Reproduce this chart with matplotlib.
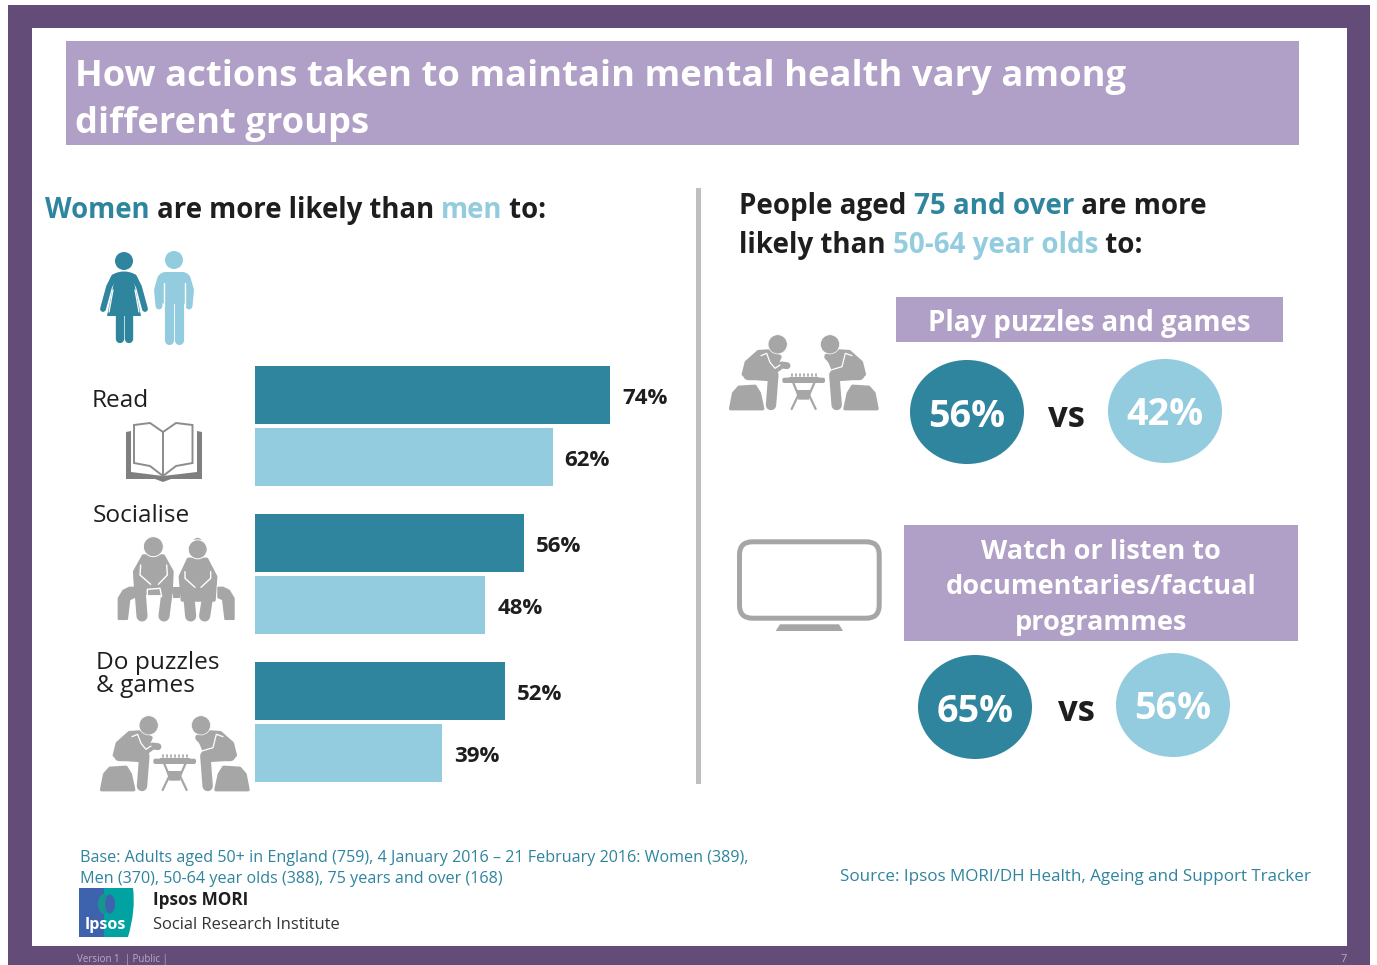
import matplotlib
matplotlib.use("Agg")
import matplotlib.pyplot as plt
from matplotlib.patches import Rectangle, Ellipse, Circle, Polygon, FancyBboxPatch, PathPatch
from matplotlib.path import Path

plt.rcParams['font.family'] = ['Open Sans', 'Noto Sans', 'DejaVu Sans']

# survey results
categories = ["Read", "Socialise", "Do puzzles\n& games"]
women = [74, 56, 52]
men = [62, 48, 39]
puzzles_old, puzzles_young = 56, 42
factual_old, factual_young = 65, 56

PURPLE = "#634C78"
LILAC = "#B09FC6"
DARK = "#2F849E"
LIGHT = "#93CCDE"
GREY = "#A6A6A6"
INK = "#1E1E1E"

fig = plt.figure(figsize=(13.77, 9.65), dpi=100)
ax = fig.add_axes([0, 0, 1, 1])
ax.set_xlim(0, 1377)
ax.set_ylim(965, 0)
ax.axis("off")
renderer = fig.canvas.get_renderer()


def rect(x0, y0, x1, y1, color, z=1):
    ax.add_patch(Rectangle((x0, y0), x1 - x0, y1 - y0, fc=color, ec="none", zorder=z))


def width_of(txt, **kw):
    # the dot keeps trailing spaces in the measurement
    a = ax.text(0, 0, txt + ".", **kw)
    b = ax.text(0, 0, ".", **kw)
    w = a.get_window_extent(renderer).width - b.get_window_extent(renderer).width
    a.remove()
    b.remove()
    return w


def runs(x, y, parts, size, weight="bold"):
    for txt, color in parts:
        ax.text(x, y, txt, color=color, fontsize=size, fontweight=weight, va="baseline", ha="left", zorder=5)
        x += width_of(txt, fontsize=size, fontweight=weight)


def thick(points, lw, color=GREY, z=3, cap="round"):
    xs, ys = zip(*points)
    ax.plot(xs, ys, color=color, lw=lw, solid_capstyle=cap, solid_joinstyle="round", zorder=z)


def blob(points, color=GREY, z=3, soft=2.5):
    # polygon with rounded corners from a thick round-joined edge
    ax.add_patch(Polygon(points, fc=color, ec=color, lw=soft, joinstyle="round", zorder=z))


def woman_icon(cx):
    ax.add_patch(Circle((cx, 261), 9, fc=DARK, ec="none", zorder=3))
    ax.add_patch(Polygon([(cx - 17, 316), (cx - 10, 282), (cx - 8, 273), (cx + 8, 273), (cx + 10, 282), (cx + 17, 316)],
                         fc=DARK, ec="none", zorder=3))
    ax.add_patch(Ellipse((cx, 279), 27, 15, fc=DARK, ec="none", zorder=3))
    thick([(cx - 10, 277), (cx - 15, 287), (cx - 21, 309)], 4.2, DARK)
    thick([(cx + 10, 277), (cx + 15, 287), (cx + 21, 309)], 4.2, DARK)
    thick([(cx - 11, 290), (cx - 15, 312)], 0.9, "white", z=4)
    thick([(cx + 11, 290), (cx + 15, 312)], 0.9, "white", z=4)
    thick([(cx - 4.5, 314), (cx - 4.5, 339)], 6.0, DARK)
    thick([(cx + 4.5, 314), (cx + 4.5, 339)], 6.0, DARK)


def man_icon(cx):
    ax.add_patch(Circle((cx, 260), 9, fc=LIGHT, ec="none", zorder=3))
    ax.add_patch(FancyBboxPatch((cx - 16, 272), 32, 32, boxstyle="round,pad=0,rounding_size=8", fc=LIGHT, ec="none", zorder=3))
    thick([(cx - 4.8, 300), (cx - 4.8, 340)], 6.6, LIGHT)
    thick([(cx + 4.8, 300), (cx + 4.8, 340)], 6.6, LIGHT)
    thick([(cx - 13, 278), (cx - 16.5, 290), (cx - 15, 306)], 5, LIGHT)
    thick([(cx + 13, 278), (cx + 16.5, 290), (cx + 15, 306)], 5, LIGHT)
    thick([(cx - 10.5, 283), (cx - 10.5, 306)], 1, "white", z=4)
    thick([(cx + 10.5, 283), (cx + 10.5, 306)], 1, "white", z=4)


def book_icon():
    ax.add_patch(Polygon([(126, 432), (131, 431), (131, 472), (163, 476), (197, 472), (197, 431), (202, 432),
                          (202, 479), (171, 479), (163, 482), (155, 479), (126, 479)], fc="#7F7F7F", ec="none", zorder=3))
    ax.add_patch(Polygon([(134, 425), (150, 423), (163, 432), (163, 476), (150, 466), (134, 463)],
                         fc="white", ec="#8C8C8C", lw=1.4, zorder=4))
    ax.add_patch(Polygon([(192.5, 425), (176, 423), (163, 432), (163, 476), (176, 466), (192.5, 463)],
                         fc="white", ec="#8C8C8C", lw=1.4, zorder=4))


def chess_icon(ox, oy):
    # local units come from a 3x drawing grid
    def p(zx, zy):
        return (ox + zx / 3 - 5, oy + zy / 3 - 10)

    def m(zx, zy):
        return p(473 - zx, zy)

    for f in (p, m):
        ax.add_patch(Circle(f(158, 58), 9.6, fc=GREY, ec="white", lw=0.5, zorder=5))
        blob([f(17, 251), f(26, 205), f(42, 187), f(90, 184), f(103, 205), f(113, 251)])
        thick([f(70, 150), f(145, 150), f(138, 240)], 7.5)
    blob([p(55, 148), p(64, 112), p(100, 80), p(130, 78), p(165, 95), p(150, 130), p(150, 165), p(70, 158)])
    thick([p(125, 100), p(150, 135), p(170, 120), p(186, 122)], 5)
    thick([p(108, 92), p(125, 85), p(135, 112), p(150, 130), p(165, 120)], 0.9, "white", z=4)
    blob([m(55, 148), m(64, 112), m(100, 80), m(130, 78), m(165, 95), m(150, 130), m(150, 165), m(70, 158)])
    thick([m(120, 100), m(135, 125), m(165, 95)], 5)
    thick([m(92, 92), m(112, 85), m(122, 125), m(155, 135)], 0.9, "white", z=4)
    # table and board
    ax.add_patch(FancyBboxPatch(p(172, 158), 128 / 3, 16 / 3, boxstyle="round,pad=0,rounding_size=2", fc=GREY, ec="none", zorder=3))
    thick([p(205, 174), p(220, 210), p(200, 252)], 1.6, z=3)
    thick([p(268, 174), p(252, 210), p(272, 252)], 1.6, z=3)
    ax.add_patch(Polygon([p(212, 195), p(260, 195), p(252, 224), p(220, 224)], fc=GREY, ec="none", zorder=3))
    thick([p(192, 155), p(280, 155)], 0.8)
    for zx in range(200, 276, 12):
        thick([p(zx, 146), p(zx, 154)], 1.2)


def couple_icon():
    def p(zx, zy):
        return (90 + zx / 3, 530 + zy / 3)

    def mirror(zx, zy):
        return p(517 - zx, zy)

    # bench ends and seat
    for f in (p, mirror):
        blob([f(86, 267), f(86, 205), f(100, 182), f(118, 173), f(132, 173), f(132, 202), f(118, 208), f(111, 267)], soft=1.5)
    rect(*p(250, 172), *p(270, 205), GREY, 3)
    # man
    blob([p(160, 78), p(220, 78), p(246, 125), p(243, 190), p(138, 190), p(134, 125)])
    ax.add_patch(Circle(p(190, 50), 10, fc=GREY, ec="white", lw=0.7, zorder=5))
    thick([p(150, 180), p(156, 258)], 8)
    thick([p(232, 180), p(222, 258)], 8)
    thick([p(152, 105), p(150, 135), p(182, 163)], 1, "white", z=4)
    thick([p(230, 105), p(232, 135), p(205, 163)], 1, "white", z=4)
    thick([p(172, 200), p(172, 178), p(210, 175), p(215, 200)], 1, "white", z=4)
    # woman
    blob([p(295, 88), p(350, 88), p(377, 140), p(372, 210), p(277, 210), p(271, 140)])
    ax.add_patch(Circle(p(323, 58), 9.5, fc=GREY, ec="white", lw=0.7, zorder=5))
    ax.add_patch(Circle(p(323, 36), 4.2, fc=GREY, ec="none", zorder=3))
    thick([p(297, 205), p(302, 258)], 8)
    thick([p(352, 205), p(344, 258)], 8)
    thick([p(285, 125), p(285, 145), p(315, 172)], 1, "white", z=5)
    thick([p(362, 125), p(362, 145), p(333, 172)], 1, "white", z=5)


def tv_icon():
    ax.add_patch(FancyBboxPatch((739.5, 541.8), 139.7, 76.4, boxstyle="round,pad=0,rounding_size=13",
                                fc="white", ec=GREY, lw=3.6, zorder=3))
    ax.add_patch(Polygon([(775.7, 631), (780, 624.3), (839, 624.3), (843, 631)], fc=GREY, ec="none", zorder=3))


def ipsos_logo():
    verts = [(79, 888), (133, 888), (136, 910), (128, 937), (79, 937), (79, 888)]
    codes = [Path.MOVETO, Path.LINETO, Path.CURVE3, Path.CURVE3, Path.LINETO, Path.CLOSEPOLY]
    ax.add_patch(PathPatch(Path(verts, codes), fc="#00A3A1", ec="none", zorder=3))
    rect(79, 888, 104, 937, "#3E63AE", 3)
    ax.add_patch(Ellipse((104, 904), 12, 20, fc="#16958F", ec="none", zorder=4))
    ax.add_patch(Ellipse((110, 904), 10, 19, fc="#3E63AE", ec="none", zorder=4))
    ax.text(105.5, 929, "Ipsos", color="white", fontsize=11.5, fontweight="bold", ha="center", va="baseline", zorder=5)


# frame and header band
rect(8, 5, 1370, 965, PURPLE, 0)
rect(32, 28, 1347, 946, "white", 0.5)
rect(66, 41, 1299, 145, LILAC)
ax.text(75, 86, "How actions taken to maintain mental health vary among", color="white", fontsize=26.2, fontweight="bold", va="baseline", zorder=5)
ax.text(75, 133, "different groups", color="white", fontsize=26.2, fontweight="bold", va="baseline", zorder=5)

# left panel heading
runs(45, 218, [("Women", DARK), (" are more likely than ", INK), ("men", LIGHT), (" to:", INK)], 19.8)

# divider
rect(696, 188, 701, 784, "#BFBFBF")

# bar axes: one unit of y is one category group
bar_ax = fig.add_axes([255 / 1377, 1 - 796 / 965, 400 / 1377, 444 / 965])
bar_ax.set_xlim(0, 400 / 4.8)
bar_ax.set_ylim(2.5, -0.5)
bar_ax.axis("off")
bar_ax.patch.set_alpha(0)
offset = 31 / 148
height = 58 / 148
for i in range(len(categories)):
    bar_ax.barh(i - offset, women[i], height=height, color=DARK)
    bar_ax.barh(i + offset, men[i], height=height, color=LIGHT)
    for y, v in ((i - offset, women[i]), (i + offset, men[i])):
        bar_ax.annotate(f"{v}%", (v, y), xytext=(8.5, -2.5), textcoords="offset points", va="center", ha="left",
                        color=INK, fontsize=16, fontweight="bold")

# category labels beside the bars
label_pos = [(92, 407), (93, 522)]
for name, (x, y) in zip(categories[:2], label_pos):
    ax.text(x, y, name, color=INK, fontsize=17.6, va="baseline", zorder=5)
first, second = categories[2].split("\n")
ax.text(96, 669, first, color=INK, fontsize=17.6, va="baseline", zorder=5)
ax.text(96, 692, second, color=INK, fontsize=17.6, va="baseline", zorder=5)

woman_icon(124)
man_icon(174)
book_icon()
couple_icon()
chess_icon(101, 716)

# right panel
runs(739, 214, [("People aged ", INK), ("75 and over", DARK), (" are more", INK)], 20)
runs(739, 253, [("likely than ", INK), ("50-64 year olds", LIGHT), (" to:", INK)], 20)

chess_icon(730, 335)
tv_icon()

rect(896, 297, 1283, 342, LILAC)
ax.text(1089.5, 331, "Play puzzles and games", color="white", fontsize=19.9, fontweight="bold", ha="center", va="baseline", zorder=5)
rect(904, 525, 1298, 641, LILAC)
for y, line in zip((559, 594, 630), ("Watch or listen to", "documentaries/factual", "programmes")):
    ax.text(1101, y, line, color="white", fontsize=19.5, fontweight="bold", ha="center", va="baseline", zorder=5)


def compare(cx1, cy1, cx2, cy2, old, young, vs_x, vs_y):
    ax.add_patch(Ellipse((cx1, cy1), 114, 104, fc=DARK, ec="none", zorder=3))
    ax.add_patch(Ellipse((cx2, cy2), 114, 104, fc=LIGHT, ec="none", zorder=3))
    ax.text(cx1, cy1 + 15, f"{old}%", color="white", fontsize=27.2, fontweight="bold", ha="center", va="baseline", zorder=5)
    ax.text(cx2, cy2 + 14, f"{young}%", color="white", fontsize=27.2, fontweight="bold", ha="center", va="baseline", zorder=5)
    ax.text(vs_x, vs_y, "vs", color=INK, fontsize=25, fontweight="bold", ha="center", va="baseline", zorder=5)


compare(967, 412, 1165, 411, puzzles_old, puzzles_young, 1067, 427)
compare(975, 707, 1173, 705, factual_old, factual_young, 1076, 721)

# footer
ax.text(80, 862, "Base: Adults aged 50+ in England (759), 4 January 2016 \u2013 21 February 2016: Women (389),", color=DARK, fontsize=11.65, va="baseline", zorder=5)
ax.text(80, 883, "Men (370), 50-64 year olds (388), 75 years and over (168)", color=DARK, fontsize=11.65, va="baseline", zorder=5)
ax.text(840, 881, "Source: Ipsos MORI/DH Health, Ageing and Support Tracker", color=DARK, fontsize=12.25, va="baseline", zorder=5)
ipsos_logo()
ax.text(153, 905, "Ipsos MORI", color=INK, fontsize=12.3, fontweight="bold", va="baseline", zorder=5)
ax.text(153, 929, "Social Research Institute", color="#333333", fontsize=11.85, va="baseline", zorder=5)
ax.text(77, 962, "Version 1  | Public |", color="#B9ACC8", fontsize=7, va="baseline", zorder=5)
ax.text(1341, 962, "7", color="#B9ACC8", fontsize=8, va="baseline", zorder=5)

fig.savefig("out.png", dpi=100)
